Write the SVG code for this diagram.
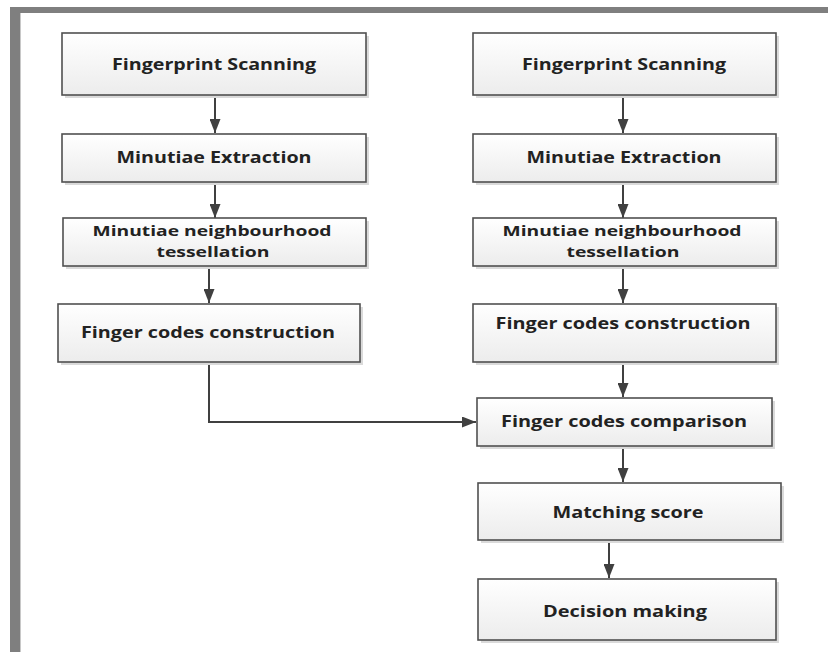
<svg xmlns="http://www.w3.org/2000/svg" width="828" height="652" viewBox="0 0 828 652">
  <defs>
    <linearGradient id="boxFill" x1="0" y1="0" x2="0" y2="1">
      <stop offset="0" stop-color="#ffffff"/>
      <stop offset="1" stop-color="#ececec"/>
    </linearGradient>
    <marker id="arrow" viewBox="0 0 14 11" refX="14" refY="5.5" markerWidth="14" markerHeight="11" markerUnits="userSpaceOnUse" orient="auto">
      <path d="M0,0 L14,5.5 L0,11 Z" fill="#404040"/>
    </marker>
  </defs>
  <style>
    .shadow { fill: #dadada; }
    .box { fill: url(#boxFill); stroke: #505050; stroke-width: 1.6; }
    .label { font-family: "Open Sans", "Liberation Sans", sans-serif; font-weight: 700; font-size: 16px; fill: #222222; text-anchor: middle; }
    .label.two-line { font-size: 15px; }
    .link { fill: none; stroke: #404040; stroke-width: 2; marker-end: url(#arrow); }
  </style>

  <!-- page background and frame -->
  <rect x="0" y="0" width="828" height="652" fill="#ffffff"/>
  <rect x="10" y="7" width="818" height="6" fill="#7f7f7f"/>
  <rect x="10" y="7" width="10" height="645" fill="#7f7f7f"/>
  <line x1="20.5" y1="13" x2="20.5" y2="652" stroke="#c8c8c8" stroke-width="1"/>

  <!-- connectors -->
  <g id="connectors">
    <path class="link" d="M215,96 V133"/>
    <path class="link" d="M215,182 V218"/>
    <path class="link" d="M209,266 V303"/>
    <path class="link" d="M209,362 V422 H476"/>
    <path class="link" d="M623,96 V133"/>
    <path class="link" d="M623,182 V218"/>
    <path class="link" d="M623,266 V303"/>
    <path class="link" d="M623,362 V397"/>
    <path class="link" d="M623,446 V482"/>
    <path class="link" d="M609,540 V578"/>
  </g>

  <!-- left column -->
  <g id="left-scanning">
    <rect class="shadow" x="65" y="36" width="304" height="62"/>
    <rect class="box" x="62" y="33" width="304" height="62"/>
    <text class="label" x="214" y="70" textLength="204" lengthAdjust="spacingAndGlyphs">Fingerprint Scanning</text>
  </g>
  <g id="left-extraction">
    <rect class="shadow" x="65" y="137" width="304" height="48"/>
    <rect class="box" x="62" y="134" width="304" height="48"/>
    <text class="label" x="214" y="163" textLength="195" lengthAdjust="spacingAndGlyphs">Minutiae Extraction</text>
  </g>
  <g id="left-tessellation">
    <rect class="shadow" x="66" y="221" width="303" height="48"/>
    <rect class="box" x="63" y="218" width="303" height="48"/>
    <text class="label two-line" x="212" y="236" textLength="239" lengthAdjust="spacingAndGlyphs">Minutiae neighbourhood</text>
    <text class="label two-line" x="213" y="257" textLength="113" lengthAdjust="spacingAndGlyphs">tessellation</text>
  </g>
  <g id="left-fingercodes">
    <rect class="shadow" x="61" y="307" width="302" height="58"/>
    <rect class="box" x="58" y="304" width="302" height="58"/>
    <text class="label" x="208" y="338" textLength="254" lengthAdjust="spacingAndGlyphs">Finger codes construction</text>
  </g>

  <!-- right column -->
  <g id="right-scanning">
    <rect class="shadow" x="476" y="36" width="303" height="62"/>
    <rect class="box" x="473" y="33" width="303" height="62"/>
    <text class="label" x="624" y="70" textLength="204" lengthAdjust="spacingAndGlyphs">Fingerprint Scanning</text>
  </g>
  <g id="right-extraction">
    <rect class="shadow" x="476" y="137" width="303" height="48"/>
    <rect class="box" x="473" y="134" width="303" height="48"/>
    <text class="label" x="624" y="163" textLength="195" lengthAdjust="spacingAndGlyphs">Minutiae Extraction</text>
  </g>
  <g id="right-tessellation">
    <rect class="shadow" x="476" y="221" width="303" height="48"/>
    <rect class="box" x="473" y="218" width="303" height="48"/>
    <text class="label two-line" x="622" y="236" textLength="239" lengthAdjust="spacingAndGlyphs">Minutiae neighbourhood</text>
    <text class="label two-line" x="623" y="257" textLength="113" lengthAdjust="spacingAndGlyphs">tessellation</text>
  </g>
  <g id="right-fingercodes">
    <rect class="shadow" x="476" y="307" width="303" height="58"/>
    <rect class="box" x="473" y="304" width="303" height="58"/>
    <text class="label" x="623" y="329" textLength="255" lengthAdjust="spacingAndGlyphs">Finger codes construction</text>
  </g>

  <!-- shared matching stage -->
  <g id="comparison">
    <rect class="shadow" x="480" y="401" width="295" height="48"/>
    <rect class="box" x="477" y="398" width="295" height="48"/>
    <text class="label" x="624" y="427" textLength="246" lengthAdjust="spacingAndGlyphs">Finger codes comparison</text>
  </g>
  <g id="matching-score">
    <rect class="shadow" x="481" y="486" width="303" height="57"/>
    <rect class="box" x="478" y="483" width="303" height="57"/>
    <text class="label" x="628" y="518" textLength="151" lengthAdjust="spacingAndGlyphs">Matching score</text>
  </g>
  <g id="decision">
    <rect class="shadow" x="481" y="582" width="298" height="61"/>
    <rect class="box" x="478" y="579" width="298" height="61"/>
    <text class="label" x="625" y="617" textLength="164" lengthAdjust="spacingAndGlyphs">Decision making</text>
  </g>
</svg>
